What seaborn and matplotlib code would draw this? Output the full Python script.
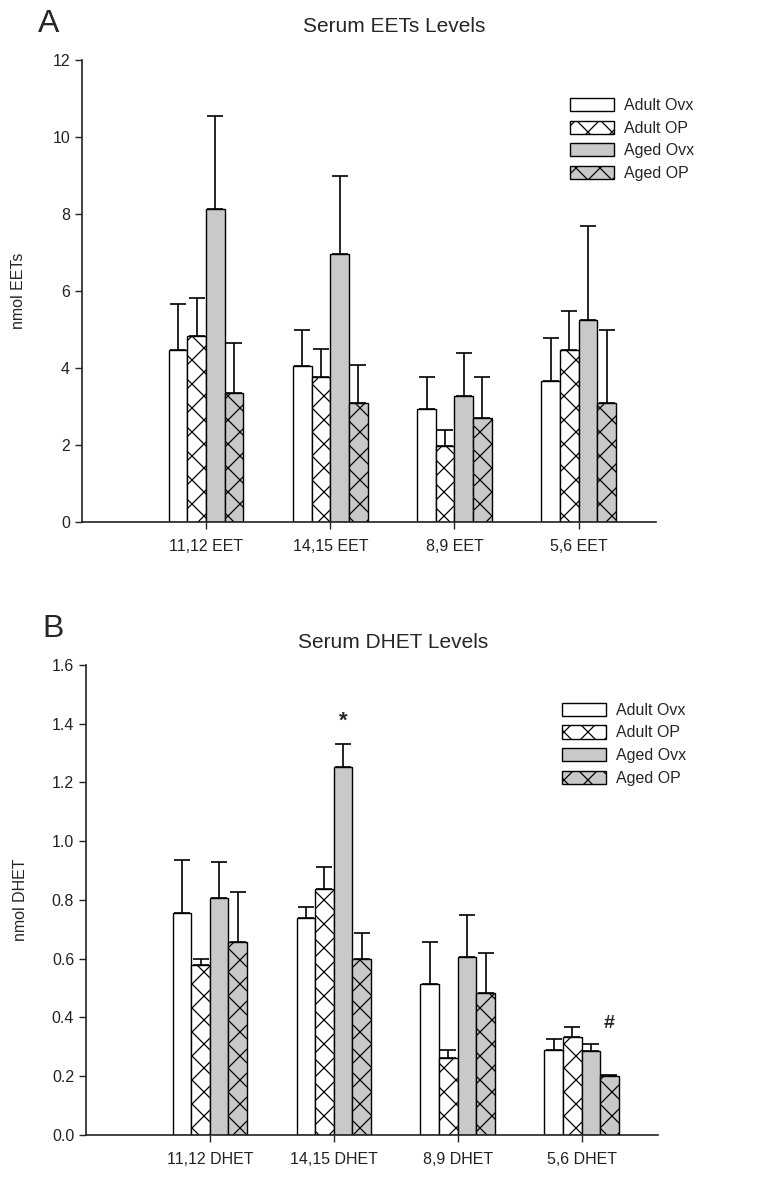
import matplotlib
matplotlib.use('Agg')
import matplotlib.pyplot as plt
import seaborn as sns
import pandas as pd
import numpy as np

groups = ['Adult Ovx', 'Adult OP', 'Aged Ovx', 'Aged OP']
group_colors = {'Adult Ovx': 'white', 'Adult OP': 'white',
                'Aged Ovx': '#c9c9c9', 'Aged OP': '#c9c9c9'}
group_hatch = {'Adult Ovx': '', 'Adult OP': 'x', 'Aged Ovx': '', 'Aged OP': 'x'}

# panel A - serum EETs (nmol), upper SEM
eet_labels = ['11,12 EET', '14,15 EET', '8,9 EET', '5,6 EET']
eet_adult_ovx = [4.46, 4.06, 2.94, 3.66]
eet_adult_op = [4.82, 3.77, 1.98, 4.46]
eet_aged_ovx = [8.13, 6.97, 3.26, 5.24]
eet_aged_op = [3.34, 3.09, 2.69, 3.09]
eet_adult_ovx_err = [1.19, 0.93, 0.83, 1.11]
eet_adult_op_err = [1.01, 0.72, 0.42, 1.03]
eet_aged_ovx_err = [2.42, 2.03, 1.12, 2.44]
eet_aged_op_err = [1.30, 1.00, 1.08, 1.90]

# panel B - serum DHETs (nmol), upper SEM
dhet_labels = ['11,12 DHET', '14,15 DHET', '8,9 DHET', '5,6 DHET']
dhet_adult_ovx = [0.755, 0.740, 0.515, 0.290]
dhet_adult_op = [0.578, 0.838, 0.261, 0.333]
dhet_aged_ovx = [0.808, 1.253, 0.605, 0.286]
dhet_aged_op = [0.658, 0.600, 0.483, 0.200]
dhet_adult_ovx_err = [0.180, 0.035, 0.143, 0.038]
dhet_adult_op_err = [0.022, 0.074, 0.029, 0.034]
dhet_aged_ovx_err = [0.120, 0.079, 0.145, 0.024]
dhet_aged_op_err = [0.168, 0.088, 0.137, 0.003]

# significance marks: (category, group, symbol, y)
dhet_marks = [('14,15 DHET', 'Aged Ovx', '*', 1.41),
              ('5,6 DHET', 'Aged OP', '#', 0.38)]

# figure drawn at 72 dpi so the crosshatch is as fine as the original;
# S converts sizes that were tuned in 100-dpi points
DPI = 72
S = 100 / DPI


def make_df(labels, series):
    rows = []
    for g, vals in zip(groups, series):
        for lab, v in zip(labels, vals):
            rows.append({'lipid': lab, 'group': g, 'value': v})
    return pd.DataFrame(rows)


def draw_panel(ax, labels, series, errs, ylim, yticks, ylabel, fmt, leg_anchor, labelpad):
    df = make_df(labels, series)
    sns.barplot(data=df, x='lipid', y='value', hue='group', order=labels,
                hue_order=groups, palette=group_colors, width=0.6, saturation=1,
                edgecolor='black', linewidth=1 * S, errorbar=None, legend=False, ax=ax)
    for cont, g, err in zip(ax.containers, groups, errs):
        xs, ys = [], []
        for p in cont.patches:
            p.set_hatch(group_hatch[g])
            xs.append(p.get_x() + p.get_width() / 2)
            ys.append(p.get_height())
        ax.errorbar(xs, ys, yerr=[np.zeros(len(err)), err], fmt='none',
                    ecolor='black', elinewidth=1.2 * S, capsize=5.5 * S, capthick=1.2 * S)
    ax.set_xlim(-1.0, 3.62)
    ax.set_ylim(*ylim)
    ax.set_yticks(yticks)
    ax.set_yticklabels([fmt.format(t) for t in yticks])
    ax.set_xlabel('')
    ax.set_ylabel(ylabel, fontsize=11.5 * S, labelpad=labelpad * S)
    ax.tick_params(axis='both', labelsize=11.5 * S, length=5 * S, width=1 * S,
                   pad=3.5 * S, colors='#222222')
    ax.tick_params(axis='x', pad=7 * S)
    for s in ['left', 'bottom']:
        ax.spines[s].set_linewidth(1.2 * S)
        ax.spines[s].set_color('#222222')
    sns.despine(ax=ax)
    ax.legend(ax.containers, groups, loc='upper left', bbox_to_anchor=leg_anchor,
              frameon=False, fontsize=11.5 * S, handlelength=2.75, handleheight=0.9,
              handletextpad=0.65, labelspacing=0.47, borderpad=0, borderaxespad=0)


sns.set_style('ticks')
plt.rcParams['font.family'] = ['Liberation Sans', 'DejaVu Sans']
plt.rcParams['hatch.linewidth'] = 0.9 * S

fig = plt.figure(figsize=(758 / DPI, 1177 / DPI), dpi=DPI)
ax1 = fig.add_axes([0.108, 0.5565, 0.757, 0.3925])
ax2 = fig.add_axes([0.1135, 0.0357, 0.755, 0.3993])

draw_panel(ax1, eet_labels, [eet_adult_ovx, eet_adult_op, eet_aged_ovx, eet_aged_op],
           [eet_adult_ovx_err, eet_adult_op_err, eet_aged_ovx_err, eet_aged_op_err],
           (0, 12), np.arange(0, 13, 2), 'nmol EETs', '{:.0f}', (0.85, 0.918), 19)
draw_panel(ax2, dhet_labels, [dhet_adult_ovx, dhet_adult_op, dhet_aged_ovx, dhet_aged_op],
           [dhet_adult_ovx_err, dhet_adult_op_err, dhet_aged_ovx_err, dhet_aged_op_err],
           (0, 1.6), np.round(np.arange(0, 1.61, 0.2), 1), 'nmol DHET', '{:.1f}', (0.832, 0.92), 17)

for lab, g, sym, y in dhet_marks:
    p = ax2.containers[groups.index(g)].patches[dhet_labels.index(lab)]
    ax2.text(p.get_x() + p.get_width() / 2, y, sym, ha='center', va='center',
             fontsize=(16 if sym == '*' else 14) * S, fontweight='bold')

fig.text(394 / 758, 1 - 27 / 1177, 'Serum EETs Levels', ha='center', va='center', fontsize=15 * S)
fig.text(393 / 758, 1 - 642 / 1177, 'Serum DHET Levels', ha='center', va='center', fontsize=15 * S)
fig.text(38 / 758, 1 - 24 / 1177, 'A', ha='left', va='center', fontsize=23 * S)
fig.text(42 / 758, 1 - 629 / 1177, 'B', ha='left', va='center', fontsize=23 * S)

plt.savefig('out.png', dpi=DPI)
